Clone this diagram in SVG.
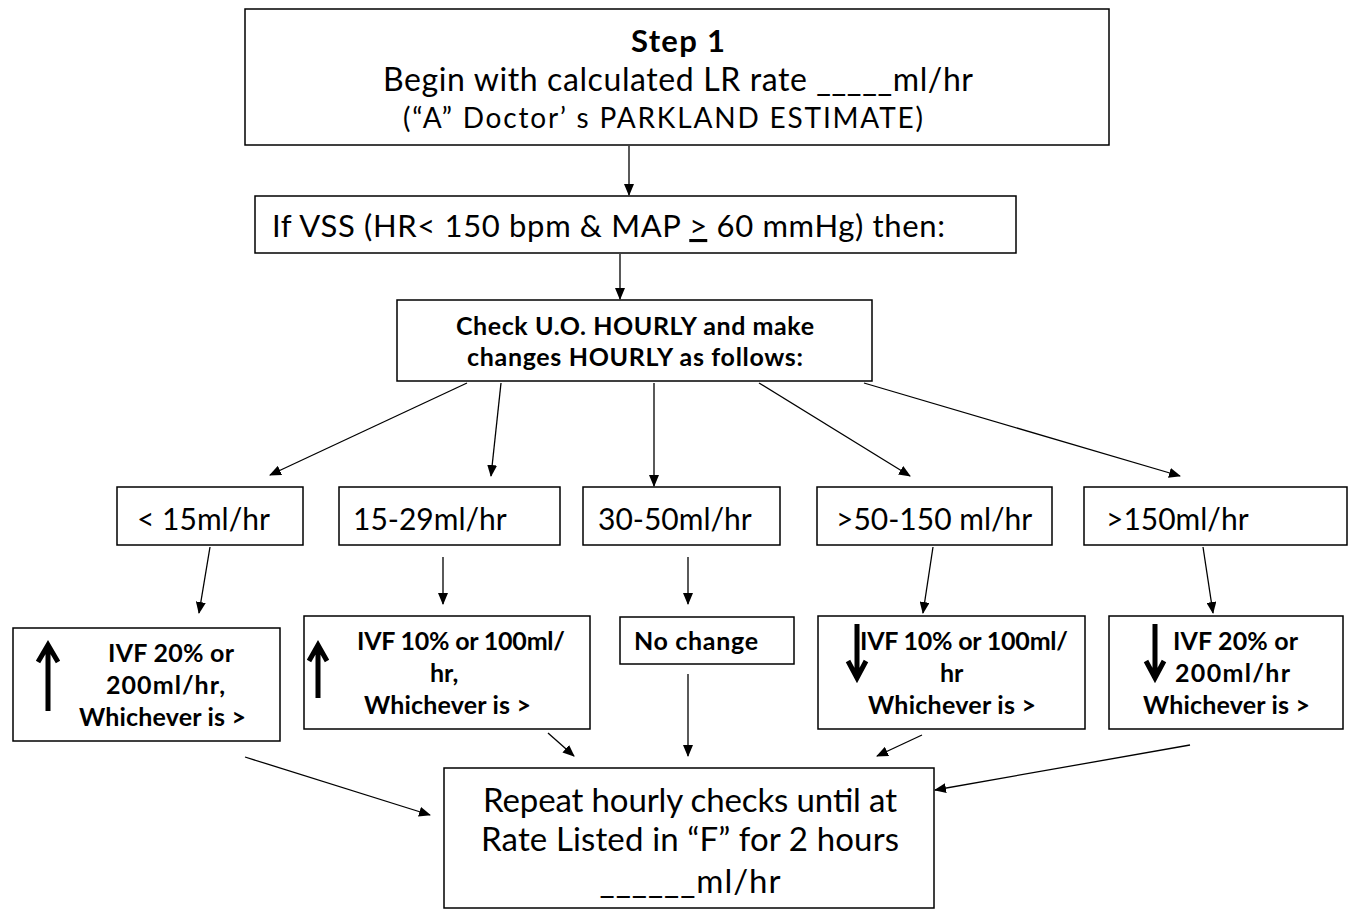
<svg xmlns="http://www.w3.org/2000/svg" width="1362" height="910" viewBox="0 0 1362 910">
<style>
.box{fill:#fff;stroke:#000;stroke-width:1.5}
.t{font-family:Lato,"Open Sans","Liberation Sans",sans-serif;fill:#000}
.b{font-weight:bold}
.s{font-size:25px}
.c{stroke:#000;stroke-width:1.3;fill:none}
.big{stroke:#000;stroke-width:5;fill:none;stroke-linecap:butt}
</style>
<defs>
<marker id="ah" viewBox="0 0 12 10" refX="11" refY="5" markerWidth="12" markerHeight="10" markerUnits="userSpaceOnUse" orient="auto">
<path d="M0,0 L12,5 L0,10 Z" fill="#000"/>
</marker>
</defs>
<rect width="1362" height="910" fill="#fff"/>

<g id="connectors">
<line class="c" x1="629" y1="146" x2="629" y2="195" marker-end="url(#ah)"/>
<line class="c" x1="620" y1="254" x2="620" y2="299" marker-end="url(#ah)"/>
<line class="c" x1="467" y1="383" x2="270" y2="475" marker-end="url(#ah)"/>
<line class="c" x1="501" y1="383" x2="491" y2="476" marker-end="url(#ah)"/>
<line class="c" x1="654" y1="383" x2="654" y2="486" marker-end="url(#ah)"/>
<line class="c" x1="759" y1="383" x2="910" y2="476" marker-end="url(#ah)"/>
<line class="c" x1="864" y1="383" x2="1180" y2="476" marker-end="url(#ah)"/>
<line class="c" x1="210" y1="547" x2="199" y2="613" marker-end="url(#ah)"/>
<line class="c" x1="443" y1="557" x2="443" y2="604" marker-end="url(#ah)"/>
<line class="c" x1="688" y1="557" x2="688" y2="604" marker-end="url(#ah)"/>
<line class="c" x1="933" y1="547" x2="923" y2="613" marker-end="url(#ah)"/>
<line class="c" x1="1203" y1="547" x2="1213" y2="613" marker-end="url(#ah)"/>
<line class="c" x1="245" y1="757" x2="430" y2="815" marker-end="url(#ah)"/>
<line class="c" x1="548" y1="733" x2="574" y2="756" marker-end="url(#ah)"/>
<line class="c" x1="688" y1="674" x2="688" y2="756" marker-end="url(#ah)"/>
<line class="c" x1="922" y1="735" x2="877" y2="756" marker-end="url(#ah)"/>
<line class="c" x1="1190" y1="745" x2="935" y2="790" marker-end="url(#ah)"/>
</g>

<g id="step1">
<rect class="box" x="245" y="9" width="864" height="136"/>
<text class="t b" x="678" y="52" font-size="31" text-anchor="middle" textLength="94">Step 1</text>
<text class="t" x="678" y="91" font-size="32" text-anchor="middle" textLength="590">Begin with calculated LR rate _____ml/hr</text>
<text class="t" x="663" y="128" font-size="28" text-anchor="middle" textLength="520">(“A” Doctor’ s PARKLAND ESTIMATE)</text>
</g>

<g id="vss">
<rect class="box" x="255" y="196" width="761" height="57"/>
<text class="t" x="272" y="237" font-size="31" textLength="673">If VSS (HR&lt; 150 bpm &amp; MAP <tspan text-decoration="underline">&gt;</tspan> 60 mmHg) then:</text>
</g>

<g id="check">
<rect class="box" x="397" y="300" width="475" height="81"/>
<text class="t b" x="456" y="335" font-size="25" textLength="358">Check U.O. HOURLY and make</text>
<text class="t b" x="467" y="366" font-size="25" textLength="336">changes HOURLY as follows:</text>
</g>

<g id="r1">
<rect class="box" x="117" y="487" width="186" height="58"/>
<text class="t" x="137" y="530" font-size="30">&lt; 15ml/hr</text>
</g>
<g id="r2">
<rect class="box" x="339" y="487" width="221" height="58"/>
<text class="t" x="353" y="530" font-size="30">15-29ml/hr</text>
</g>
<g id="r3">
<rect class="box" x="583" y="487" width="197" height="58"/>
<text class="t" x="598" y="530" font-size="30">30-50ml/hr</text>
</g>
<g id="r4">
<rect class="box" x="817" y="487" width="235" height="58"/>
<text class="t" x="836" y="530" font-size="30">&gt;50-150 ml/hr</text>
</g>
<g id="r5">
<rect class="box" x="1084" y="487" width="263" height="58"/>
<text class="t" x="1106" y="530" font-size="30">&gt;150ml/hr</text>
</g>

<g id="a1">
<rect class="box" x="13" y="628" width="267" height="113"/>
<path class="big" d="M48,711 V648 M38,662 L48,645 L58,662"/>
<text class="t b s" x="108" y="662" textLength="126">IVF 20% or</text>
<text class="t b s" x="106" y="694" textLength="119">200ml/hr,</text>
<text class="t b s" x="79" y="726" textLength="167">Whichever is &gt;</text>
</g>
<g id="a2">
<rect class="box" x="304" y="616" width="286" height="113"/>
<path class="big" d="M318,698 V647 M309,661 L318,645 L327,661"/>
<text class="t b s" x="357" y="650" textLength="208">IVF 10% or 100ml/</text>
<text class="t b s" x="430" y="682">hr,</text>
<text class="t b s" x="364" y="714" textLength="167">Whichever is &gt;</text>
</g>
<g id="a3">
<rect class="box" x="620" y="617" width="174" height="47"/>
<text class="t b s" x="634" y="650" textLength="124">No change</text>
</g>
<g id="a4">
<rect class="box" x="818" y="616" width="267" height="113"/>
<path class="big" d="M857,624 V676 M848,661 L857,678 L866,661"/>
<text class="t b s" x="860" y="650" textLength="208">IVF 10% or 100ml/</text>
<text class="t b s" x="940" y="682">hr</text>
<text class="t b s" x="868" y="714" textLength="168">Whichever is &gt;</text>
</g>
<g id="a5">
<rect class="box" x="1109" y="616" width="234" height="113"/>
<path class="big" d="M1155,624 V676 M1146,661 L1155,678 L1164,661"/>
<text class="t b s" x="1173" y="650" textLength="125">IVF 20% or</text>
<text class="t b s" x="1175" y="682" textLength="115">200ml/hr</text>
<text class="t b s" x="1143" y="714" textLength="167">Whichever is &gt;</text>
</g>

<g id="final">
<rect class="box" x="444" y="768" width="490" height="140"/>
<text class="t" x="690" y="812" font-size="33" text-anchor="middle" textLength="414">Repeat hourly checks until at</text>
<text class="t" x="690" y="851" font-size="33" text-anchor="middle" textLength="418">Rate Listed in “F” for 2 hours</text>
<text class="t" x="690" y="893" font-size="33" text-anchor="middle" textLength="181">______ml/hr</text>
</g>
</svg>
